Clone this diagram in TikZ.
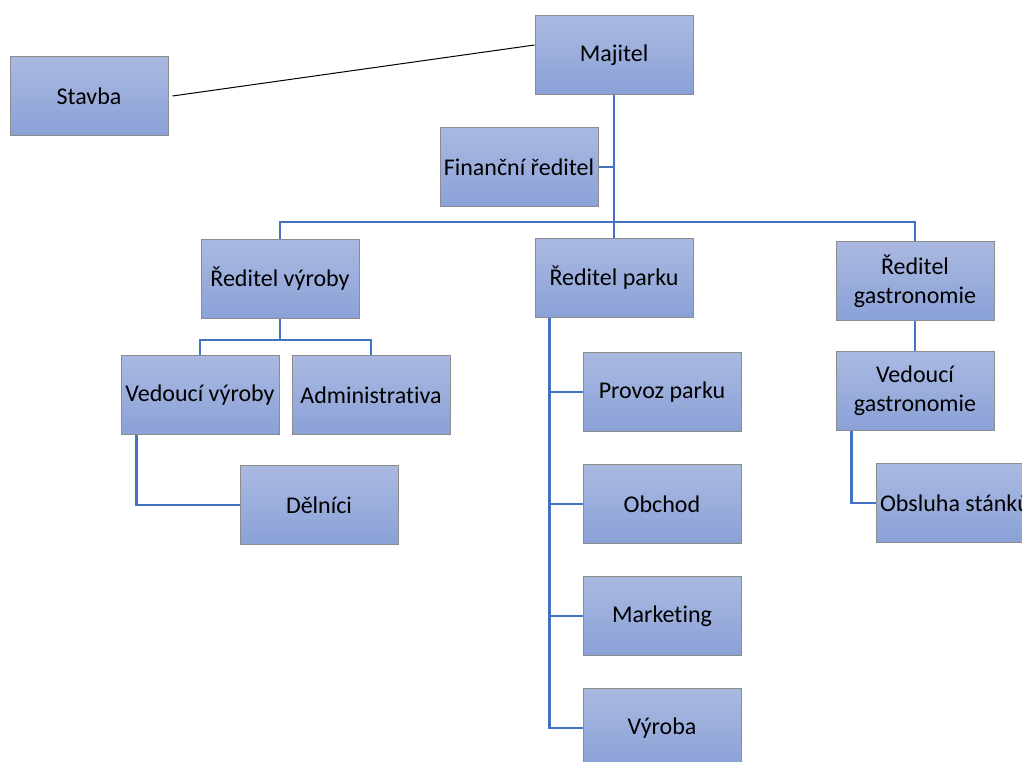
\documentclass[tikz,border=0pt]{standalone}
\usepackage{fontspec}
\setmainfont[Ligatures=NoCommon]{Carlito}
\definecolor{boxtop}{HTML}{AAB9E1}
\definecolor{boxbottom}{HTML}{8AA1D7}
\definecolor{boxgray}{HTML}{8C8C8C}
\definecolor{linkblue}{HTML}{4472C4}
\begin{document}
\begin{tikzpicture}[x=1pt,y=-1pt,
square/.style={
% The shape:
rectangle,
draw=boxgray,
line width=1pt,
top color=boxtop,
bottom color=boxbottom,
minimum width=158pt,
minimum height=79pt,
align=center,
font=\fontsize{24}{29}\selectfont
},
link/.style={
draw=linkblue,
line width=2.6pt
}
]
\useasboundingbox (0,0) rectangle (1022,762);
% Top of the chart:
\node (majitel) [square] at (614,55) {Majitel};
\node (stavba) [square] at (89,96) {Stavba};
\node (financni) [square] at (519,167) {Finanční ředitel};
% Directors:
\node (rvyroby) [square] at (280,279) {Ředitel výroby};
\node (rparku) [square] at (614,278) {Ředitel parku};
\node (rgastro) [square] at (915,281) {Ředitel\\gastronomie};
% Lower levels:
\node (vvyroby) [square] at (200,395) {Vedoucí výroby};
\node (admin) [square] at (371,395) {Administrativa};
\node (delnici) [square] at (319,505) {Dělníci};
\node (provoz) [square] at (662,392) {Provoz parku};
\node (obchod) [square] at (662,504) {Obchod};
\node (marketing) [square] at (662,616) {Marketing};
\node (vyroba) [square] at (662,728) {Výroba};
\node (vgastro) [square] at (915,391) {Vedoucí\\gastronomie};
\node (obsluha) [square] at (955,503) {Obsluha stánků};

\coordinate (bus) at (0,222);
\coordinate (vbus) at (0,340);
\coordinate (spine) at ([xshift=15pt]rparku.south west);

\draw[line width=1pt] ([xshift=4pt]stavba.east) -- ([yshift=10pt]majitel.west);

\draw[link] (majitel.south) -- (rparku.north);
\draw[link] (financni.east) -- (financni.east -| majitel.south);
\draw[link] (rvyroby.north) |- (bus -| rgastro.north) -- (rgastro.north);

\draw[link] (rvyroby.south) -- (rvyroby.south |- vbus);
\draw[link] (vvyroby.north) |- (vbus -| admin.north) -- (admin.north);
\draw[link] ([xshift=16pt]vvyroby.south west) |- (delnici.west);

\draw[link] (spine) |- (vyroba.west);
\foreach \n in {provoz,obchod,marketing}
  \draw[link] (\n.west) -- (\n.west -| spine);

\draw[link] (rgastro.south) -- (vgastro.north);
\draw[link] ([xshift=16pt]vgastro.south west) |- (obsluha.west);
\end{tikzpicture}
\end{document}
